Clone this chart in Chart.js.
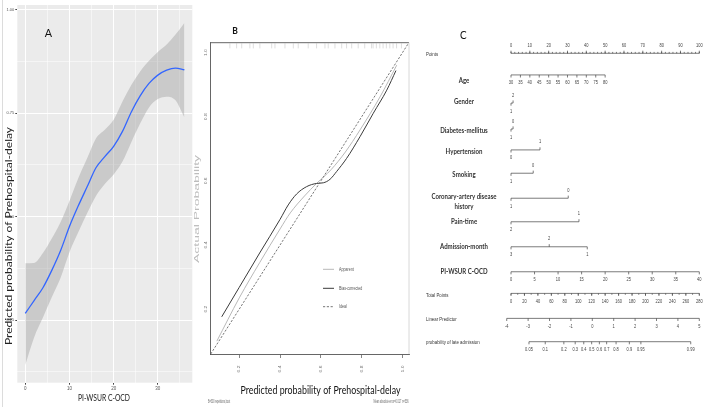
<!DOCTYPE html>
<html><head><meta charset="utf-8">
<script src="https://cdn.jsdelivr.net/npm/chart.js@4.4.1/dist/chart.umd.min.js"></script>
<style>
html,body{margin:0;padding:0;background:#fff;width:711px;height:407px;overflow:hidden;}
canvas{position:absolute;top:0;}
</style></head><body>
<canvas id="ca" width="200" height="407" style="left:0px"></canvas>
<canvas id="cb" width="240" height="407" style="left:185px"></canvas>
<canvas id="cc" width="291" height="407" style="left:420px"></canvas>
<script>
// ================= DATA =================
// ---- Panel A : smoothed predicted probability vs PI-WSUR C-OCD ----
const A_X     = [0,2,4,6,8,10,12,14,16,18,20,22,24,26,28,30,32,34,36];
const A_FIT   = [0.266,0.297,0.328,0.370,0.418,0.476,0.526,0.572,0.618,0.645,0.670,0.706,0.753,0.792,0.822,0.842,0.854,0.859,0.855];
const A_UPPER = [0.387,0.388,0.412,0.447,0.487,0.538,0.593,0.641,0.689,0.710,0.734,0.778,0.818,0.851,0.877,0.898,0.916,0.940,0.968];
const A_LOWER = [0.141,0.208,0.256,0.305,0.352,0.414,0.462,0.508,0.550,0.579,0.602,0.633,0.680,0.725,0.764,0.784,0.790,0.781,0.740];
const A_X_MAJOR = [0,10,20,30];
const A_X_MINOR = [5,15,25,35];
const A_Y_MAJOR = [0.25,0.5,0.75,1.0];
const A_Y_LABELS = ['0.25','0.50','0.75','1.00'];
const A_Y_MINOR = [0.125,0.375,0.625,0.875];
const A_TITLE_X = 'PI-WSUR C-OCD';
const A_TITLE_Y = 'Predicted probability of Prehospital-delay';

// ---- Panel B : calibration curve ----
const B_APPARENT_X = [0.09,0.2,0.3,0.4,0.45,0.52,0.579,0.65,0.72,0.792,0.89,0.972];
const B_APPARENT_Y = [0.10,0.235,0.345,0.45,0.50,0.553,0.592,0.635,0.69,0.759,0.862,0.961];
const B_BIAS_X = [0.114,0.2,0.3,0.4,0.44,0.481,0.53,0.579,0.612,0.645,0.677,0.726,0.792,0.857,0.923,0.968];
const B_BIAS_Y = [0.176,0.268,0.375,0.48,0.525,0.559,0.582,0.592,0.594,0.605,0.629,0.67,0.738,0.811,0.883,0.944];
const B_IDEAL = [0.06,1.032];
const B_RUG = [0.154,0.187,0.212,0.252,0.269,0.301,0.359,0.375,0.424,0.465,0.489,0.538,0.579,0.62,0.636,0.669,0.702,0.726,0.751,0.783,0.815,0.848,0.856,0.872,0.889,0.905,0.921,0.938,0.954,0.971,0.995];
const B_TICKS = [0.2,0.4,0.6,0.8,1.0];
const B_TICK_LABELS = ['0.2','0.4','0.6','0.8','1.0'];
const B_LEGEND = ['Apparent','Bias-corrected','Ideal'];
const B_TITLE_X = 'Predicted probability of Prehospital-delay';
const B_TITLE_Y = 'Actual Probability';
const B_NOTE_LEFT = 'B=500 repetitions,boot';
const B_NOTE_RIGHT = 'Mean absolute error=0.017 n=536';

// ---- Panel C : nomogram ----
const C_ROW_NAMES = ['Points','Age','Gender','Diabetes-mellitus','Hypertension','Smoking',
  'Coronary-artery disease|history','Pain-time','Admission-month','PI-WSUR C-OCD',
  'Total Points','Linear Predictor','probability of late admission'];
const C_POINTS_TICKS = [0,10,20,30,40,50,60,70,80,90,100];
const C_AGE_LABELS = [30,35,40,45,50,55,60,65,70,75,80];
const C_AGE_POINTS = [0,5,10,15,20,25,30,35,40,45,50];
const C_GENDER_LEVELS = ['1','2'];        const C_GENDER_POINTS = [0,1.1];
const C_DIABETES_LEVELS = ['1','0'];      const C_DIABETES_POINTS = [0,1.1];
const C_HYPERTENSION_LEVELS = ['0','1'];  const C_HYPERTENSION_POINTS = [0,15.4];
const C_SMOKING_LEVELS = ['1','0'];       const C_SMOKING_POINTS = [0,11.8];
const C_CAD_LEVELS = ['1','0'];           const C_CAD_POINTS = [0,30.4];
const C_PAIN_LEVELS = ['2','1'];          const C_PAIN_POINTS = [0,36.1];
const C_ADMISSION_LEVELS = ['3','2','1']; const C_ADMISSION_POINTS = [0,20.3,40.5];
const C_PIWSUR_LABELS = [0,5,10,15,20,25,30,35,40];
const C_PIWSUR_POINTS = [0,12.5,25,37.5,50,62.5,75,87.5,100];
const C_TOTAL_LABELS = [0,20,40,60,80,100,120,140,160,180,200,220,240,260,280];
const C_TOTAL_MAX = 280;
const C_LP_LABELS = [-4,-3,-2,-1,0,1,2,3,4,5];
const C_LP_AT_TOTAL = [-3.8,5.0];   // linear predictor at 0 and at 280 total points
const C_PROB_LABELS = ['0.05','0.1','0.2','0.3','0.4','0.5','0.6','0.7','0.8','0.9','0.95','0.99'];
const C_PROB_LP = [-2.96,-2.2,-1.33,-0.8,-0.4,-0.03,0.33,0.67,1.11,1.73,2.27,4.6];

// ================= HELPERS =================
const SX = 0.725;
function drawText(ctx, s, x, y, o) {
  o = o || {};
  ctx.save();
  ctx.font = o.font || '6px "Liberation Sans"';
  ctx.fillStyle = o.color || '#333';
  ctx.textAlign = o.align || 'center';
  ctx.textBaseline = o.base || 'middle';
  ctx.translate(x, y);
  const mw = ctx.measureText(s).width;
  if (o.rot) {
    ctx.rotate(o.rot);
    ctx.scale(o.len ? o.len / mw : 1, o.sy == null ? SX : o.sy);
  } else {
    ctx.scale(o.w ? o.w / mw : (o.sx == null ? SX : o.sx), 1);
  }
  ctx.fillText(s, 0, 0);
  ctx.restore();
}
function seg(ctx, x1, y1, x2, y2) { ctx.beginPath(); ctx.moveTo(x1, y1); ctx.lineTo(x2, y2); ctx.stroke(); }
const xy = (xs, ys) => xs.map((x, i) => ({x: x, y: ys[i]}));
const baseOpts = { responsive:false, animation:false, events:[], plugins:{legend:{display:false}, tooltip:{enabled:false}} };

// ================= PANEL A =================
const aMajorX = v => A_X_MAJOR.includes(v);
const aMajorY = v => A_Y_MAJOR.some(m => Math.abs(m - v) < 1e-9);
const panelABg = { id:'aBg', beforeDraw(chart) {
  const c = chart.ctx, a = chart.chartArea;
  c.save(); c.fillStyle = '#ebebeb'; c.fillRect(a.left, a.top, a.right - a.left, a.bottom - a.top);
  c.strokeStyle = '#dcdcdc'; c.lineWidth = 1; seg(c, 2.5, 0, 2.5, 407); c.restore();
}};
const panelAText = { id:'aText', afterDraw(chart) {
  const c = chart.ctx;
  drawText(c, 'A', 48.5, 33.5, {font:'12px Lato', color:'#111', sx:0.9});
  drawText(c, A_TITLE_Y, 8.5, 236, {font:'12px Lato', color:'#222', rot:-Math.PI/2, len:218, sy:0.8});
  drawText(c, A_TITLE_X, 104, 398, {font:'9px Lato', color:'#222', w:52});
}};
new Chart(document.getElementById('ca'), {
  type:'line',
  data:{ datasets:[
    { data: xy(A_X, A_FIT), borderColor:'#3366FF', borderWidth:1.3, pointRadius:0, fill:false, cubicInterpolationMode:'monotone', order:0 },
    { data: xy(A_X, A_UPPER), borderWidth:0, borderColor:'rgba(0,0,0,0)', backgroundColor:'rgba(153,153,153,0.4)', pointRadius:0, fill:'+1', cubicInterpolationMode:'monotone', order:1 },
    { data: xy(A_X, A_LOWER), borderWidth:0, borderColor:'rgba(0,0,0,0)', pointRadius:0, fill:false, cubicInterpolationMode:'monotone', order:2 }
  ]},
  options: Object.assign({}, baseOpts, {
    layout:{ autoPadding:false, padding:{left:0, top:5, right:7.7, bottom:0} },
    scales:{
      x:{ type:'linear', min:-1.8, max:37.8,
          afterBuildTicks: s => { s.ticks = A_X_MAJOR.concat(A_X_MINOR).sort((p,q)=>p-q).map(v=>({value:v})); },
          afterFit: s => { s.height = 24.3; },
          border:{display:false},
          grid:{ color:'#ffffff', lineWidth: c => aMajorX(c.tick.value) ? 1 : 0.5,
                 tickColor: c => aMajorX(c.tick.value) ? '#444' : 'rgba(0,0,0,0)', tickLength:2, drawTicks:true },
          ticks:{ autoSkip:false, maxRotation:0, minRotation:0, padding:1, color:'#555',
                  font:{size:4.5, family:'"Liberation Sans"'}, callback: v => aMajorX(v) ? String(v) : '' } },
      y:{ type:'linear', min:0.0985, max:1.0115,
          afterBuildTicks: s => { s.ticks = A_Y_MAJOR.concat(A_Y_MINOR).sort((p,q)=>p-q).map(v=>({value:v})); },
          afterFit: s => { s.width = 17.3; },
          border:{display:false},
          grid:{ color:'#ffffff', lineWidth: c => aMajorY(c.tick.value) ? 1 : 0.5,
                 tickColor: c => aMajorY(c.tick.value) ? '#444' : 'rgba(0,0,0,0)', tickLength:2, drawTicks:true },
          ticks:{ autoSkip:false, padding:1, color:'#555', font:{size:4, family:'"Liberation Sans"'},
                  callback: v => { const i = A_Y_MAJOR.findIndex(m => Math.abs(m - v) < 1e-9); return i >= 0 ? A_Y_LABELS[i] : ''; } } }
    }
  }),
  plugins:[panelABg, panelAText]
});

// ================= PANEL B =================
const B_STYLE = [
  {color:'#b8b8b8', width:1, dash:[]},
  {color:'#3a3a3a', width:1, dash:[]},
  {color:'#666666', width:0.9, dash:[2.2,1.6]}
];
const panelBDeco = { id:'bDeco', afterDraw(chart) {
  const c = chart.ctx, a = chart.chartArea, xs = chart.scales.x, ys = chart.scales.y;
  c.save();
  c.lineWidth = 0.9; c.strokeStyle = '#555'; seg(c, a.left, a.top, a.right, a.top);
  c.strokeStyle = '#d4d4d4'; seg(c, a.right, a.top, a.right, a.bottom);
  c.restore();
  B_TICKS.forEach((v, i) => {
    drawText(c, B_TICK_LABELS[i], xs.getPixelForValue(v), 369, {font:'5px "Liberation Sans"', color:'#777', rot:-Math.PI/2, sy:0.85});
    drawText(c, B_TICK_LABELS[i], a.left - 4.5, ys.getPixelForValue(v), {font:'5px "Liberation Sans"', color:'#777', rot:-Math.PI/2, sy:0.85});
  });
  drawText(c, B_TITLE_Y, 12, 209, {font:'12px "Liberation Sans"', color:'#bdbdbd', rot:-Math.PI/2, len:108, sy:0.55});
  drawText(c, B_TITLE_X, 135.5, 390, {font:'12px Lato', color:'#111', w:160});
  drawText(c, B_NOTE_LEFT, 23, 401.5, {font:'5px "Liberation Sans"', color:'#666', align:'left', w:22});
  drawText(c, B_NOTE_RIGHT, 223.5, 401.5, {font:'5px "Liberation Sans"', color:'#666', align:'right', w:35});
  drawText(c, 'B', 50, 31, {font:'bold 10px Lato', color:'#111', sx:0.85});
  // legend
  const ly = [269.3, 288.3, 306.7];
  B_LEGEND.forEach((t, i) => {
    const st = B_STYLE[i];
    c.save(); c.strokeStyle = st.color; c.lineWidth = st.width; c.setLineDash(st.dash);
    seg(c, 138, ly[i], 149, ly[i]); c.restore();
    drawText(c, t, 154, ly[i], {font:'5px "Liberation Sans"', color:'#555', align:'left'});
  });
}};
new Chart(document.getElementById('cb'), {
  type:'line',
  data:{ datasets:[
    { data: xy(B_IDEAL, B_IDEAL), borderColor:B_STYLE[2].color, borderWidth:B_STYLE[2].width, borderDash:B_STYLE[2].dash, pointRadius:0, fill:false },
    { data: xy(B_BIAS_X, B_BIAS_Y), borderColor:B_STYLE[1].color, borderWidth:B_STYLE[1].width, pointRadius:0, fill:false, cubicInterpolationMode:'monotone' },
    { data: xy(B_APPARENT_X, B_APPARENT_Y), borderColor:B_STYLE[0].color, borderWidth:B_STYLE[0].width, pointRadius:0, fill:false, cubicInterpolationMode:'monotone' },
    { data: B_RUG.map(v => ({x:v, y:1.021})), showLine:false, pointStyle:'line', pointRotation:90, pointRadius:2.5,
      pointBorderColor:'#dadada', pointBorderWidth:0.9, pointBackgroundColor:'#dadada' }
  ]},
  options: Object.assign({}, baseOpts, {
    layout:{ autoPadding:false, padding:{left:0, top:42.7, right:16, bottom:0} },
    scales:{
      x:{ type:'linear', min:0.06, max:1.032,
          afterBuildTicks: s => { s.ticks = B_TICKS.map(v=>({value:v})); },
          afterFit: s => { s.height = 53; },
          border:{display:true, color:'#555', width:0.9},
          grid:{ drawOnChartArea:false, drawTicks:true, tickLength:4, tickColor:'#666', lineWidth:0.8 },
          ticks:{ display:false } },
      y:{ type:'linear', min:0.06, max:1.031,
          afterBuildTicks: s => { s.ticks = B_TICKS.map(v=>({value:v})); },
          afterFit: s => { s.width = 25.7; },
          border:{display:true, color:'#555', width:0.9},
          grid:{ display:false },
          ticks:{ display:false } }
    }
  }),
  plugins:[panelBDeco]
});

// ================= PANEL C =================
const ROW_POS = [0,0.90,2.07,3.15,4.02,4.99,6.03,7.01,8.05,9.09,9.99,11.03,12.0];
const LABEL_DY = [1.5,5,-1.3,1,1.7,0.7,-1.6,0,0,0,1.7,0.7,0.3];
const lpToPts = lp => (lp - C_LP_AT_TOTAL[0]) / (C_LP_AT_TOTAL[1] - C_LP_AT_TOTAL[0]) * 100;
const totToPts = t => t / C_TOTAL_MAX * 100;
const cat = (lv, pts) => lv.map((t, i) => ({p:pts[i], t:t, side: i % 2 === 0 ? 1 : -1}));
const cont = (labels, pts, side) => labels.map((t, i) => ({p:pts[i], t:String(t), side:side}));
const C_ROWS = [
  {items: cont(C_POINTS_TICKS, C_POINTS_TICKS, -1), minor:{from:0, to:100, step:2}, plain:true},
  {items: cont(C_AGE_LABELS, C_AGE_POINTS, 1)},
  {items: cat(C_GENDER_LEVELS, C_GENDER_POINTS)},
  {items: cat(C_DIABETES_LEVELS, C_DIABETES_POINTS)},
  {items: cat(C_HYPERTENSION_LEVELS, C_HYPERTENSION_POINTS)},
  {items: cat(C_SMOKING_LEVELS, C_SMOKING_POINTS)},
  {items: cat(C_CAD_LEVELS, C_CAD_POINTS)},
  {items: cat(C_PAIN_LEVELS, C_PAIN_POINTS)},
  {items: cat(C_ADMISSION_LEVELS, C_ADMISSION_POINTS)},
  {items: cont(C_PIWSUR_LABELS, C_PIWSUR_POINTS, 1)},
  {items: cont(C_TOTAL_LABELS, C_TOTAL_LABELS.map(totToPts), 1), minor:{from:0, to:C_TOTAL_MAX, step:10, map:totToPts}, plain:true},
  {items: cont(C_LP_LABELS, C_LP_LABELS.map(lpToPts), 1), plain:true},
  {items: C_PROB_LABELS.map((t, i) => ({p:lpToPts(C_PROB_LP[i]), t:t, side:1})), plain:true}
];
const panelCDeco = { id:'cDeco', afterDatasetsDraw(chart) {
  const c = chart.ctx, xs = chart.scales.x, ys = chart.scales.y;
  c.save(); c.strokeStyle = '#444'; c.lineWidth = 0.7;
  C_ROWS.forEach((row, r) => {
    const y = ys.getPixelForValue(ROW_POS[r]);
    row.items.forEach(it => {
      const x = xs.getPixelForValue(it.p);
      seg(c, x, y, x, y + it.side * 2.6);
      drawText(c, it.t, x, y + it.side * 8, {font:'5.5px "Liberation Sans"', color:'#444'});
    });
    if (row.minor) {
      const m = row.minor, f = m.map || (v => v);
      for (let v = m.from; v <= m.to + 1e-9; v += m.step) {
        const x = xs.getPixelForValue(f(v));
        seg(c, x, y, x, y + row.items[0].side * 1.4);
      }
    }
    const ly = y + LABEL_DY[r];
    const name = C_ROW_NAMES[r];
    if (row.plain) {
      drawText(c, name, 6, ly, {font:'6px "Liberation Sans"', color:'#333', align:'left'});
    } else {
      const parts = name.split('|');
      parts.forEach((p, k) => drawText(c, p, 44, ly + k * 10, {font:'bold 8px Lato', color:'#333', sx:0.76}));
    }
  });
  c.restore();
  drawText(c, 'C', 43.3, 35, {font:'11px Lato', color:'#111', sx:0.9});
}};
const C_AXES = C_ROWS.map((row, r) => {
  const ps = row.items.map(i => i.p);
  return { data:[{x:Math.min.apply(null, ps), y:ROW_POS[r]}, {x:Math.max.apply(null, ps), y:ROW_POS[r]}],
           borderColor:'#444', borderWidth:0.7, pointRadius:0, fill:false, clip:false };
});
new Chart(document.getElementById('cc'), {
  type:'line',
  data:{ datasets: C_AXES },
  options: Object.assign({}, baseOpts, {
    layout:{ autoPadding:false, padding:{left:91, top:53.3, right:11.7, bottom:65.3} },
    scales:{
      x:{ type:'linear', min:0, max:100, display:false },
      y:{ type:'linear', min:0, max:12, reverse:true, display:false }
    }
  }),
  plugins:[panelCDeco]
});
</script>
</body></html>
